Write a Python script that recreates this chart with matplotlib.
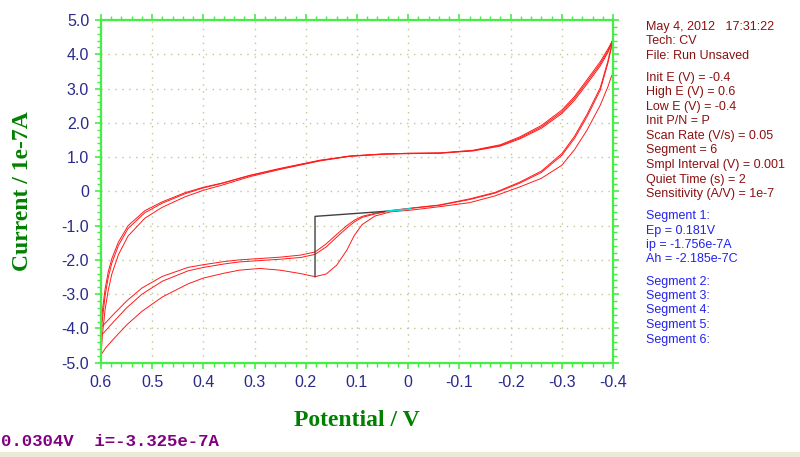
import matplotlib
matplotlib.use("Agg")
import matplotlib.pyplot as plt
from matplotlib.ticker import MultipleLocator, FixedLocator
from matplotlib.patches import Rectangle

# potential grid (V) of the forward scans, -0.4 -> 0.6
x_lower = [-0.400, -0.397, -0.390, -0.375, -0.349, -0.325, -0.300, -0.260, -0.218, -0.170,
           -0.120, -0.060, -0.010, 0.035, 0.065, 0.090, 0.105, 0.120, 0.140, 0.160,
           0.182, 0.210, 0.250, 0.290, 0.330, 0.360, 0.400, 0.430, 0.480, 0.520,
           0.550, 0.575, 0.590, 0.600]

# current (1e-7 A), segments 1, 3, 5
seg1 = [3.44, 3.36, 3.05, 2.51, 1.78, 1.22, 0.76, 0.38, 0.13, -0.13,
        -0.33, -0.45, -0.54, -0.60, -0.72, -0.97, -1.28, -1.72, -2.16, -2.41,
        -2.49, -2.40, -2.30, -2.25, -2.30, -2.39, -2.53, -2.70, -3.08, -3.50,
        -3.90, -4.30, -4.55, -4.77]
seg3 = [4.43, 4.20, 3.74, 2.95, 2.17, 1.55, 1.05, 0.55, 0.24, -0.05,
        -0.24, -0.41, -0.49, -0.57, -0.66, -0.76, -0.89, -1.07, -1.34, -1.62,
        -1.84, -1.93, -1.98, -2.02, -2.06, -2.12, -2.22, -2.32, -2.62, -3.00,
        -3.40, -3.80, -4.05, -4.21]
seg5 = [4.43, 4.25, 3.80, 3.02, 2.24, 1.61, 1.10, 0.59, 0.27, -0.03,
        -0.22, -0.40, -0.48, -0.56, -0.64, -0.73, -0.84, -1.00, -1.26, -1.53,
        -1.77, -1.86, -1.92, -1.96, -2.00, -2.05, -2.14, -2.22, -2.48, -2.82,
        -3.20, -3.58, -3.82, -3.97]

# reverse scans, 0.6 -> -0.4
x_upper = [0.600, 0.597, 0.592, 0.586, 0.579, 0.566, 0.547, 0.514, 0.481, 0.436,
           0.400, 0.364, 0.309, 0.250, 0.172, 0.114, 0.050, 0.000, -0.062, -0.127,
           -0.180, -0.218, -0.260, -0.300, -0.325, -0.349, -0.375, -0.390, -0.400]

seg2 = [-4.77, -4.15, -3.45, -2.90, -2.42, -1.85, -1.30, -0.78, -0.47, -0.16,
        0.03, 0.18, 0.43, 0.64, 0.89, 1.02, 1.08, 1.10, 1.11, 1.18,
        1.32, 1.53, 1.84, 2.27, 2.66, 3.13, 3.66, 4.05, 4.43]
seg4 = [-4.21, -3.70, -3.05, -2.52, -2.10, -1.58, -1.08, -0.62, -0.35, -0.07,
        0.10, 0.23, 0.46, 0.66, 0.90, 1.03, 1.09, 1.11, 1.12, 1.19,
        1.34, 1.56, 1.88, 2.32, 2.72, 3.19, 3.72, 4.10, 4.43]
seg6 = [-3.97, -3.45, -2.85, -2.36, -1.97, -1.48, -1.00, -0.56, -0.31, -0.04,
        0.12, 0.24, 0.47, 0.67, 0.91, 1.03, 1.09, 1.11, 1.12, 1.20,
        1.36, 1.59, 1.92, 2.37, 2.77, 3.25, 3.78, 4.15, 4.43]

# peak baseline drawn by the software
base_x = [0.182, 0.182, 0.042]
base_y = [-2.49, -0.73, -0.58]
fit_x = [0.042, -0.004]
fit_y = [-0.58, -0.51]

x_ticks = [0.6, 0.5, 0.4, 0.3, 0.2, 0.1, 0.0, -0.1, -0.2, -0.3, -0.4]
x_labels = ["0.6", "0.5", "0.4", "0.3", "0.2", "0.1", "0", "-0.1", "-0.2", "-0.3", "-0.4"]
y_ticks = [5, 4, 3, 2, 1, 0, -1, -2, -3, -4, -5]
y_labels = ["5.0", "4.0", "3.0", "2.0", "1.0", "0", "-1.0", "-2.0", "-3.0", "-4.0", "-5.0"]

info_groups = [
    ["May 4, 2012   17:31:22", "Tech: CV", "File: Run Unsaved"],
    ["Init E (V) = -0.4", "High E (V) = 0.6", "Low E (V) = -0.4", "Init P/N = P",
     "Scan Rate (V/s) = 0.05", "Segment = 6", "Smpl Interval (V) = 0.001",
     "Quiet Time (s) = 2", "Sensitivity (A/V) = 1e-7"],
    ["Segment 1:", "Ep = 0.181V", "ip = -1.756e-7A", "Ah = -2.185e-7C"],
    ["Segment 2:", "Segment 3:", "Segment 4:", "Segment 5:", "Segment 6:"],
]
group_colors = ["#8b1010", "#8b1010", "#2222ee", "#2222ee"]

status = "0.0304V  i=-3.325e-7A"

W, H = 800, 457
fig = plt.figure(figsize=(8, 4.57), dpi=100)
ax = fig.add_axes([101 / W, 1 - 362.7 / H, 512 / W, 342.7 / H])

green = "#44ee44"

for x, y in [(x_lower, seg1), (x_upper, seg2), (x_lower, seg3),
             (x_upper, seg4), (x_lower, seg5), (x_upper, seg6)]:
    ax.plot(x, y, color="#ff1a1a", lw=0.7)
ax.plot(base_x, base_y, color="#404040", lw=1.0)
ax.plot(fit_x, fit_y, color="#00e0e0", lw=1.2)

ax.set_xlim(0.6, -0.4)
ax.set_ylim(-5, 5)
ax.xaxis.set_major_locator(FixedLocator(x_ticks))
ax.set_xticklabels(x_labels)
ax.yaxis.set_major_locator(FixedLocator(y_ticks))
ax.set_yticklabels(y_labels)
ax.xaxis.set_minor_locator(MultipleLocator(0.02))
ax.yaxis.set_minor_locator(MultipleLocator(0.2))
ax.grid(True, which="major", color="#c4c494", lw=1.0, linestyle=(0, (1, 4)))

for s in ax.spines.values():
    s.set_color(green)
    s.set_linewidth(1.6)
ax.tick_params(which="both", direction="out", color=green, top=True, right=True,
               labelcolor="#2a2a8a", labelsize=11.5, pad=4)
ax.tick_params(which="major", length=4.5, width=1.2)
ax.tick_params(which="minor", length=3, width=1.0)
for lab in ax.get_xticklabels() + ax.get_yticklabels():
    lab.set_family(["Liberation Sans", "DejaVu Sans"])

fig.text(357 / W, 1 - 421 / H, "Potential / V", color="#008000", fontsize=17,
         fontweight="bold", family=["Liberation Serif", "DejaVu Serif"],
         ha="center", va="center")
fig.text(23 / W, 1 - 191 / H, "Current / 1e-7A", color="#008000", fontsize=17,
         fontweight="bold", family=["Liberation Serif", "DejaVu Serif"],
         ha="center", va="center", rotation=90)

# info panel on the right
yy = 27
for lines, col in zip(info_groups, group_colors):
    for line in lines:
        fig.text(646 / W, 1 - yy / H, line, color=col, fontsize=9,
                 family=["Liberation Sans", "DejaVu Sans"], va="center", ha="left")
        yy += 14.5
    yy += 7.5

fig.text(1 / W, 1 - 441 / H, status, color="#800080", fontsize=12.5,
         fontweight="bold", family=["Liberation Mono", "DejaVu Sans Mono"],
         va="center", ha="left")

fig.patches.append(Rectangle((0, 0), 1, 5 / H, transform=fig.transFigure,
                             facecolor="#ece9d8", edgecolor="none"))

fig.savefig("out.png", dpi=100)
